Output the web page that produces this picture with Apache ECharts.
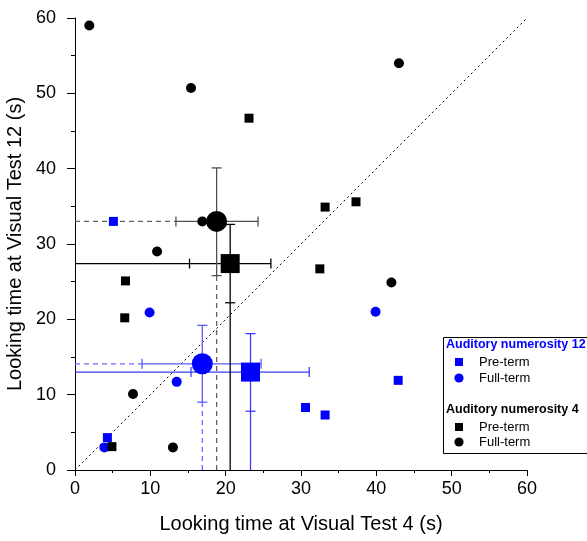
<!DOCTYPE html>
<html>
<head>
<meta charset="utf-8">
<script src="https://cdn.jsdelivr.net/npm/echarts@6/dist/echarts.min.js"></script>
<style>
html,body{margin:0;padding:0;background:#fff;}
#main{width:587px;height:541px;}
</style>
</head>
<body>
<div id="main"></div>
<script>
// ---- data ----
const preTerm12X = [5.1, 30.6, 33.2, 4.3, 42.9];
const preTerm12Y = [33.0, 8.3, 7.3, 4.3, 11.9];
const fullTerm12X = [9.9, 13.5, 3.9, 39.9];
const fullTerm12Y = [20.9, 11.7, 3.0, 21.0];
const preTerm4X = [23.1, 33.2, 37.3, 32.5, 6.7, 6.6, 4.9];
const preTerm4Y = [46.7, 34.9, 35.6, 26.7, 25.1, 20.2, 3.1];
const fullTerm4X = [1.9, 15.4, 43.0, 10.9, 16.9, 7.7, 13.0, 42.0];
const fullTerm4Y = [59.0, 50.7, 54.0, 29.0, 33.0, 10.1, 3.0, 24.9];

const meanGroups = ['Pre-term 12', 'Full-term 12', 'Pre-term 4', 'Full-term 4'];
const meanX = [23.3, 16.9, 20.6, 18.8];
const meanY = [13.0, 14.1, 27.4, 33.0];
const errXLow = [15.4, 8.9, 15.2, 13.4];
const errXHigh = [31.1, 24.7, 26.0, 24.3];
const errYLow = [7.8, 9.0, 22.2, 25.8];
const errYHigh = [18.1, 19.2, 32.6, 40.1];

const identityLine = [[0, 0], [60, 60]];
const axisMin = 0, axisMax = 60, axisStep = 10;

const xTitle = 'Looking time at Visual Test 4 (s)';
const yTitle = 'Looking time at Visual Test 12 (s)';
const legendTitle12 = 'Auditory numerosity 12';
const legendTitle4 = 'Auditory numerosity 4';
const legendPre = 'Pre-term';
const legendFull = 'Full-term';

// ---- styles ----
const FONT = '"Liberation Sans", Arial, sans-serif';
const BLUE = '#0000ff';
const meanColor = [BLUE, BLUE, '#000000', '#000000'];
const errColor = ['#3b3bff', '#5a5aff', '#000000', '#505050'];
const dropColor = ['#3b3bff', '#6b6bff', '#000000', '#606060'];
const dropDashed = [false, true, false, true];
const meanSymbol = ['rect', 'circle', 'rect', 'circle'];
const meanSize = [19, 21, 19, 21];

function zipXY(xs, ys) { return xs.map((x, i) => [x, ys[i]]); }

const chart = echarts.init(document.getElementById('main'), null, {renderer: 'canvas'});

const meanData = meanX.map((x, i) => [x, meanY[i], errXLow[i], errXHigh[i], errYLow[i], errYHigh[i]]);

function renderErr(params, api) {
  const i = params.dataIndex;
  const mx = api.value(0), my = api.value(1);
  const xl = api.value(2), xh = api.value(3), yl = api.value(4), yh = api.value(5);
  const c = errColor[i], dc = dropColor[i];
  const cap = 5;
  const pXL = api.coord([xl, my]);
  const pXH = api.coord([xh, my]);
  const pYL = api.coord([mx, yl]);
  const pYH = api.coord([mx, yh]);
  const pX0 = api.coord([axisMin, my]);
  const pY0 = api.coord([mx, axisMin]);
  const errStyle = {stroke: c, lineWidth: 1.3};
  const dropStyle = {stroke: dc, lineWidth: 1.3, lineDash: dropDashed[i] ? [5, 4] : null};
  const seg = (a, b, st) => ({type: 'line', shape: {x1: a[0], y1: a[1], x2: b[0], y2: b[1]}, style: st});
  return {
    type: 'group',
    children: [
      seg(pX0, pXL, dropStyle),
      seg(pY0, pYL, dropStyle),
      seg(pXL, pXH, errStyle),
      seg(pYL, pYH, errStyle),
      seg([pXL[0], pXL[1] - cap], [pXL[0], pXL[1] + cap], errStyle),
      seg([pXH[0], pXH[1] - cap], [pXH[0], pXH[1] + cap], errStyle),
      seg([pYL[0] - cap, pYL[1]], [pYL[0] + cap, pYL[1]], errStyle),
      seg([pYH[0] - cap, pYH[1]], [pYH[0] + cap, pYH[1]], errStyle)
    ]
  };
}

const axisCommon = {
  type: 'value', min: axisMin, max: axisMax, interval: axisStep,
  splitLine: {show: false},
  axisLine: {show: true, onZero: false, lineStyle: {color: '#000', width: 1}},
  nameLocation: 'middle',
  nameTextStyle: {color: '#000', fontSize: 20, fontFamily: FONT}
};

// legend graphic positions
const LX = 443, LY = 337;
function legendSymbol(kind, color, cx, cy) {
  if (kind === 'rect') {
    return {type: 'rect', shape: {x: cx - 4, y: cy - 4, width: 8, height: 8}, style: {fill: color}, z: 11};
  }
  return {type: 'circle', shape: {cx: cx, cy: cy, r: 4.6}, style: {fill: color}, z: 11};
}
function legendText(t, x, y, opts) {
  return {type: 'text', x: x, y: y, z: 11, style: Object.assign({text: t, fill: '#000', font: '13px ' + FONT, verticalAlign: 'middle', align: 'left'}, opts || {})};
}

const option = {
  animation: false,
  backgroundColor: '#fff',
  grid: {left: 75, right: 60, top: 18, bottom: 71, outerBoundsMode: 'none'},
  xAxis: Object.assign({}, axisCommon, {
    name: xTitle, nameGap: 44,
    axisTick: {show: true, inside: false, length: 6, lineStyle: {color: '#000'}},
    minorTick: {show: true, splitNumber: 2, length: 3, lineStyle: {color: '#000'}},
    axisLabel: {color: '#000', fontSize: 18, fontFamily: FONT, margin: 10}
  }),
  yAxis: Object.assign({}, axisCommon, {
    name: yTitle, nameGap: 42,
    axisTick: {show: true, inside: false, length: 8, lineStyle: {color: '#000'}},
    minorTick: {show: true, splitNumber: 2, length: 4, lineStyle: {color: '#000'}},
    axisLabel: {color: '#000', fontSize: 18, fontFamily: FONT, margin: 19}
  }),
  series: [
    {
      type: 'line', name: 'identity', data: identityLine, showSymbol: false, symbol: 'none',
      lineStyle: {color: '#000', width: 1, type: [2, 3]}, silent: true, z: 1
    },
    {
      type: 'custom', name: 'error bars', data: meanData, renderItem: renderErr,
      encode: {x: 0, y: 1}, z: 2, silent: true
    },
    {type: 'scatter', name: 'Pre-term 12', data: zipXY(preTerm12X, preTerm12Y), symbol: 'rect', symbolSize: 9, itemStyle: {color: BLUE, opacity: 1}, z: 3},
    {type: 'scatter', name: 'Full-term 12', data: zipXY(fullTerm12X, fullTerm12Y), symbol: 'circle', symbolSize: 10, itemStyle: {color: BLUE, opacity: 1}, z: 3},
    {type: 'scatter', name: 'Pre-term 4', data: zipXY(preTerm4X, preTerm4Y), symbol: 'rect', symbolSize: 9, itemStyle: {color: '#000', opacity: 1}, z: 3},
    {type: 'scatter', name: 'Full-term 4', data: zipXY(fullTerm4X, fullTerm4Y), symbol: 'circle', symbolSize: 10, itemStyle: {color: '#000', opacity: 1}, z: 3},
    {
      type: 'scatter', name: 'means', z: 4,
      data: meanX.map((x, i) => ({
        value: [x, meanY[i]], symbol: meanSymbol[i], symbolSize: meanSize[i],
        itemStyle: {color: meanColor[i], opacity: 1}, name: meanGroups[i]
      }))
    }
  ],
  graphic: [
    {type: 'rect', shape: {x: LX + 0.5, y: LY + 0.5, width: 160, height: 116}, style: {fill: '#fff', stroke: '#000', lineWidth: 1}, z: 10},
    legendText(legendTitle12, LX + 3, LY + 8, {fill: BLUE, font: 'bold 12.5px ' + FONT}),
    legendSymbol('rect', BLUE, LX + 16, LY + 25),
    legendText(legendPre, LX + 36, LY + 25),
    legendSymbol('circle', BLUE, LX + 16, LY + 41),
    legendText(legendFull, LX + 36, LY + 41),
    legendText(legendTitle4, LX + 3, LY + 73, {font: 'bold 12.5px ' + FONT}),
    legendSymbol('rect', '#000', LX + 16, LY + 90),
    legendText(legendPre, LX + 36, LY + 90),
    legendSymbol('circle', '#000', LX + 16, LY + 105),
    legendText(legendFull, LX + 36, LY + 105)
  ]
};

chart.setOption(option);
</script>
</body>
</html>
